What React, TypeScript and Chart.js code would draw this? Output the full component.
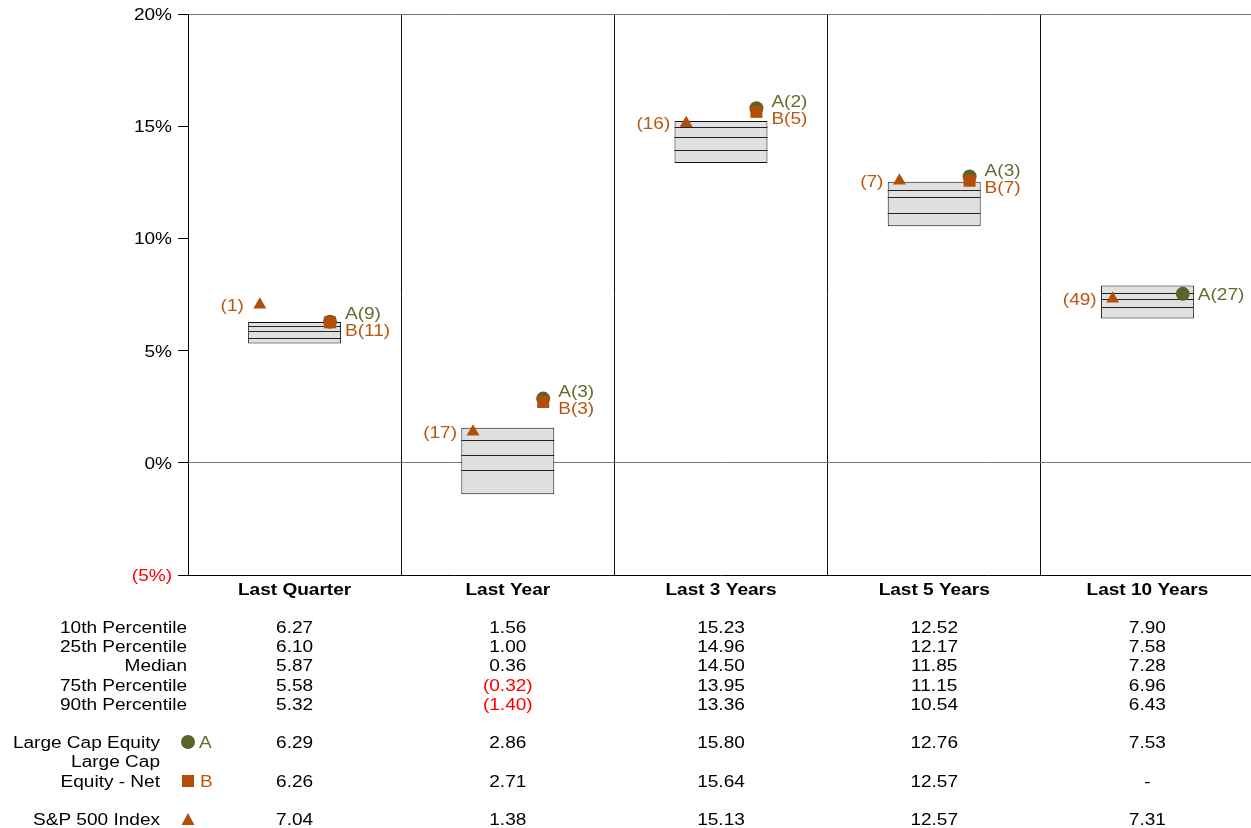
import React, { useEffect, useRef } from 'react';
import { Chart, registerables } from 'chart.js';
Chart.register(...registerables);

const categories = ['Last Quarter', 'Last Year', 'Last 3 Years', 'Last 5 Years', 'Last 10 Years'];
const p10 = [6.27, 1.56, 15.23, 12.52, 7.9];
const p25 = [6.1, 1.0, 14.96, 12.17, 7.58];
const median = [5.87, 0.36, 14.5, 11.85, 7.28];
const p75 = [5.58, -0.32, 13.95, 11.15, 6.96];
const p90 = [5.32, -1.4, 13.36, 10.54, 6.43];
const seriesA = [6.29, 2.86, 15.8, 12.76, 7.53];
const seriesB: (number | null)[] = [6.26, 2.71, 15.64, 12.57, null];
const sp500 = [7.04, 1.38, 15.13, 12.57, 7.31];
const rankA = [9, 3, 2, 3, 27];
const rankB: (number | null)[] = [11, 3, 5, 7, null];
const rankSP = [1, 17, 16, 7, 49];
const yTicks = [-5, 0, 5, 10, 15, 20];

const OLIVE = '#5c6326';
const OLIVE_T = '#646b2e';
const ORANGE = '#b34e0a';
const ORANGE_T = '#b9560f';
const RED = '#ff0000';
const FONT = '"Liberation Sans", Arial, Helvetica, sans-serif';
const SX = 1.19;
const OFF_AB = 0.166;
const OFF_SP = -0.163;

function txt(ctx: CanvasRenderingContext2D, s: string, x: number, y: number, align: CanvasTextAlign, color: string, bold = false) {
  ctx.save();
  ctx.font = `${bold ? 'bold ' : ''}16px ${FONT}`;
  ctx.fillStyle = color;
  ctx.textBaseline = 'alphabetic';
  ctx.textAlign = align;
  ctx.translate(x, y);
  ctx.scale(SX, 1);
  ctx.fillText(s, 0, 0);
  ctx.restore();
}

function fmt(v: number | null) {
  if (v === null || v === undefined) return { s: '-', c: '#000' };
  if (v < 0) return { s: `(${Math.abs(v).toFixed(2)})`, c: RED };
  return { s: v.toFixed(2), c: '#000' };
}

function circle(ctx: CanvasRenderingContext2D, x: number, y: number, r: number, color: string) {
  ctx.save(); ctx.fillStyle = color; ctx.beginPath(); ctx.arc(x, y, r, 0, Math.PI * 2); ctx.fill(); ctx.restore();
}
function square(ctx: CanvasRenderingContext2D, x: number, y: number, s: number, color: string) {
  ctx.save(); ctx.fillStyle = color; ctx.fillRect(x - s / 2, y - s / 2, s, s); ctx.restore();
}
function tri(ctx: CanvasRenderingContext2D, x: number, y: number, w: number, h: number, color: string) {
  ctx.save(); ctx.fillStyle = color; ctx.beginPath();
  ctx.moveTo(x, y - h / 2); ctx.lineTo(x + w / 2, y + h / 2); ctx.lineTo(x - w / 2, y + h / 2); ctx.closePath(); ctx.fill(); ctx.restore();
}

const boxLines = {
  id: 'boxLines',
  afterDatasetDraw(chart: any, args: any) {
    if (args.index !== 0) return;
    const ctx = chart.ctx as CanvasRenderingContext2D;
    const y = chart.scales.y;
    const meta = chart.getDatasetMeta(0);
    ctx.save();
    ctx.strokeStyle = '#222';
    ctx.lineWidth = 1;
    meta.data.forEach((bar: any, i: number) => {
      const l = bar.x - bar.width / 2;
      const r = bar.x + bar.width / 2;
      [p25[i], median[i], p75[i]].forEach((v) => {
        const py = Math.round(y.getPixelForValue(v)) + 0.5;
        ctx.beginPath(); ctx.moveTo(l, py); ctx.lineTo(r, py); ctx.stroke();
      });
    });
    ctx.restore();
  },
};

const texts = {
  id: 'texts',
  afterDraw(chart: any) {
    const ctx = chart.ctx as CanvasRenderingContext2D;
    const x2 = chart.scales.x2;
    const y = chart.scales.y;
    const xs = chart.scales.x;
    yTicks.forEach((v) => {
      const py = y.getPixelForValue(v);
      const s = v < 0 ? `(${Math.abs(v)}%)` : `${v}%`;
      txt(ctx, s, 172, py + 6, 'right', v < 0 ? RED : '#000');
    });
    categories.forEach((c, i) => {
      txt(ctx, c, xs.getPixelForValue(i), 595, 'center', '#000', true);
    });
    categories.forEach((_, i) => {
      const ax = x2.getPixelForValue(i + 0.5 + OFF_AB);
      const yA = y.getPixelForValue(seriesA[i]);
      const b = seriesB[i];
      if (b !== null) {
        const yB = y.getPixelForValue(b);
        const mid = (yA + yB) / 2;
        txt(ctx, `A(${rankA[i]})`, ax + 15, mid - 9 + 6, 'left', OLIVE_T);
        txt(ctx, `B(${rankB[i]})`, ax + 15, mid + 8 + 6, 'left', ORANGE_T);
      } else {
        txt(ctx, `A(${rankA[i]})`, ax + 15, yA + 6, 'left', OLIVE_T);
      }
      const sx = x2.getPixelForValue(i + 0.5 + OFF_SP);
      const sy = y.getPixelForValue(sp500[i]);
      txt(ctx, `(${rankSP[i]})`, sx - 16, sy + 6, 'right', ORANGE_T);
    });
    const rows: [string, (number | null)[], number][] = [
      ['10th Percentile', p10, 633],
      ['25th Percentile', p25, 652],
      ['Median', median, 671],
      ['75th Percentile', p75, 690.5],
      ['90th Percentile', p90, 709.5],
    ];
    rows.forEach(([label, data, by]) => {
      txt(ctx, label, 187, by, 'right', '#000');
      data.forEach((v, i) => {
        const f = fmt(v);
        txt(ctx, f.s, xs.getPixelForValue(i), by, 'center', f.c);
      });
    });
    const series: [string[], (number | null)[], number][] = [
      [['Large Cap Equity'], seriesA, 747.5],
      [['Large Cap', 'Equity - Net'], seriesB, 786.5],
      [['S&P 500 Index'], sp500, 824.5],
    ];
    series.forEach(([lines, data, by]) => {
      lines.forEach((ln, k) => {
        txt(ctx, ln, 160, by - (lines.length - 1 - k) * 19.5, 'right', '#000');
      });
      data.forEach((v, i) => {
        const f = fmt(v);
        txt(ctx, f.s, xs.getPixelForValue(i), by, 'center', f.c);
      });
    });
    circle(ctx, 188, 742, 7, OLIVE);
    txt(ctx, 'A', 199, 747.5, 'left', OLIVE_T);
    square(ctx, 188, 781, 12, ORANGE);
    txt(ctx, 'B', 200, 786.5, 'left', ORANGE_T);
    tri(ctx, 188, 819, 13, 12, ORANGE);
  },
};

export default function App() {
  const ref = useRef<HTMLCanvasElement>(null);
  useEffect(() => {
    const canvas = ref.current!;
    const chart = new Chart(canvas, {
      type: 'bar',
      data: {
        labels: categories,
        datasets: [
          {
            type: 'bar',
            data: categories.map((_, i) => [p90[i], p10[i]]) as any,
            backgroundColor: '#e0e0e0',
            borderColor: '#111',
            borderWidth: 1,
            borderSkipped: false,
            grouped: false,
            categoryPercentage: 1,
            barPercentage: 0.436,
            xAxisID: 'x',
            yAxisID: 'y',
            order: 10,
          } as any,
          {
            type: 'scatter',
            data: categories.map((_, i) => ({ x: i + 0.5 + OFF_AB, y: seriesA[i] })),
            pointStyle: 'circle',
            pointRadius: 7,
            backgroundColor: OLIVE,
            borderColor: OLIVE,
            borderWidth: 0,
            xAxisID: 'x2',
            yAxisID: 'y',
            order: 3,
          } as any,
          {
            type: 'scatter',
            data: categories.map((_, i) => ({ x: i + 0.5 + OFF_AB, y: seriesB[i] })),
            pointStyle: 'rect',
            pointRadius: 8.5,
            backgroundColor: ORANGE,
            borderColor: ORANGE,
            borderWidth: 0,
            xAxisID: 'x2',
            yAxisID: 'y',
            order: 2,
          } as any,
          {
            type: 'scatter',
            data: categories.map((_, i) => ({ x: i + 0.5 + OFF_SP, y: sp500[i] })),
            pointStyle: 'triangle',
            pointRadius: 7.5,
            backgroundColor: ORANGE,
            borderColor: ORANGE,
            borderWidth: 0,
            xAxisID: 'x2',
            yAxisID: 'y',
            order: 1,
          } as any,
        ],
      },
      options: {
        responsive: false,
        animation: false,
        events: [],
        layout: { padding: { top: 14, left: 0, right: 10, bottom: 0 } },
        plugins: { legend: { display: false }, tooltip: { enabled: false } },
        scales: {
          x: {
            type: 'category',
            offset: true,
            grid: { display: true, offset: true, color: '#111', lineWidth: 1, drawTicks: false },
            border: { display: true, color: '#000' },
            ticks: { display: false },
            afterFit: (s: any) => { s.height = 828 - 575; },
          },
          x2: { type: 'linear', min: 0, max: 5, offset: false, display: false, grid: { offset: false } },
          y: {
            min: -5,
            max: 20,
            ticks: { stepSize: 5, display: false },
            grid: {
              color: (c: any) => (c.tick && (c.tick.value === 0 || c.tick.value === 20) ? '#777' : 'rgba(0,0,0,0)'),
              tickColor: '#000',
              tickLength: 10,
              drawTicks: true,
            },
            border: { display: true, color: '#000' },
            afterFit: (s: any) => { s.width = 188; },
          },
        },
      } as any,
      plugins: [boxLines, texts],
    });
    return () => chart.destroy();
  }, []);
  return (
    <div style={{ position: 'absolute', left: 0, top: 0, width: 1251, height: 828, overflow: 'hidden', background: '#fff' }}>
      <canvas ref={ref} width={1264} height={828} style={{ width: 1264, height: 828, display: 'block' }} />
    </div>
  );
}
